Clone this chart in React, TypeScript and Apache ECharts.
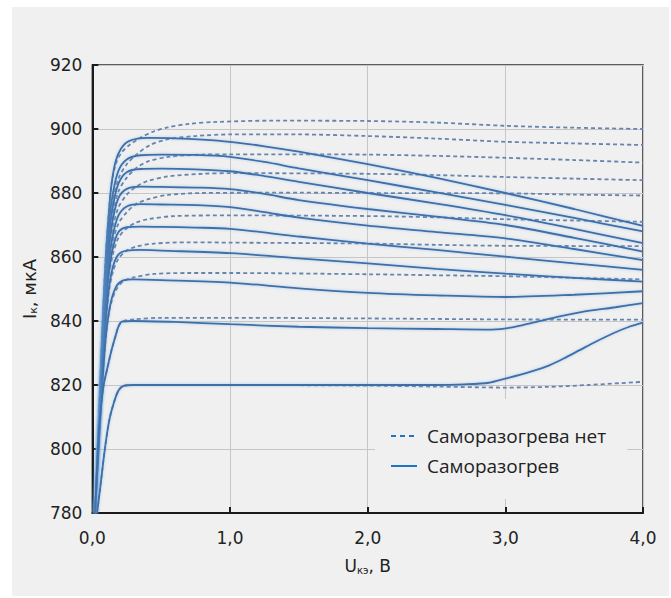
import React, { useEffect, useRef } from "react";
import * as echarts from "echarts";

// X axis ticks (U, V) and Y axis ticks (I, µA)
const xTicks = [0, 1, 2, 3, 4];
const yTicks = [780, 800, 820, 840, 860, 880, 900, 920];

const NAME_COLD = "Саморазогрева нет";
const NAME_HOT = "Саморазогрев";

// Solid curves (self-heating), [U, I]
const hot1 = [[0.02,780],[0.04,802],[0.06,824],[0.08,845],[0.1,862],[0.12,874],[0.14,883],[0.17,890],[0.21,894],[0.27,896.3],[0.4,897.2],[0.6,897.1],[0.8,896.7],[1,896],[1.25,894.6],[1.5,892.9],[2,889],[2.5,884.7],[3,880],[3.5,875],[4,869.7]];
const hot2 = [[0.02,780],[0.04,801],[0.06,822],[0.08,842],[0.1,858],[0.12,870],[0.15,880],[0.19,887],[0.25,890.5],[0.35,891.8],[0.5,892],[0.75,891.9],[1,891.3],[1.25,889.7],[1.5,887.7],[2,884],[2.5,880.2],[3,876.3],[3.5,872.2],[4,868]];
const hot3 = [[0.02,780],[0.04,800],[0.06,820],[0.08,840],[0.1,855],[0.12,866],[0.15,876],[0.19,883],[0.25,886.5],[0.35,887.5],[0.5,887.6],[0.75,887.4],[1,886.8],[1.25,885.3],[1.5,883.5],[2,880],[2.5,876.7],[3,873.1],[3.5,868.8],[4,864.3]];
const hot4 = [[0.02,780],[0.04,800],[0.06,819],[0.08,837],[0.1,851],[0.12,862],[0.15,872],[0.19,878.5],[0.25,881.3],[0.35,882],[0.5,881.9],[0.75,881.7],[1,881.2],[1.25,879.7],[1.5,877.8],[2,875],[2.5,872.6],[3,870],[3.5,866],[4,861.7]];
const hot5 = [[0.02,780],[0.04,799],[0.06,818],[0.08,835],[0.1,848],[0.12,858],[0.15,867],[0.19,873],[0.25,875.8],[0.35,876.5],[0.5,876.4],[0.75,876.2],[1,875.6],[1.25,874],[1.5,872.3],[2,869.8],[2.5,867.8],[3,865.8],[3.5,862.5],[4,859]];
const hot6 = [[0.02,780],[0.04,798],[0.06,816],[0.08,832],[0.1,845],[0.12,855],[0.15,863],[0.19,867.8],[0.25,869.3],[0.35,869.5],[0.5,869.4],[0.75,869.2],[1,868.8],[1.5,866.4],[2,864.2],[2.5,862.2],[3,860.1],[3.5,858],[4,856]];
const hot7 = [[0.02,780],[0.04,797],[0.06,814],[0.08,829],[0.1,841],[0.12,850],[0.15,857],[0.19,860.8],[0.25,862],[0.35,862.2],[0.5,862],[1,861.2],[1.5,859.6],[2,858],[2.5,856.3],[3,854.8],[3.5,853.5],[4,852.3]];
const hot8 = [[0.02,780],[0.04,796],[0.06,811],[0.08,825],[0.1,836],[0.13,845],[0.17,850.5],[0.22,852.6],[0.3,853],[0.5,852.8],[1,852],[1.5,850.2],[2,848.8],[2.5,848],[3,847.5],[3.5,848.2],[4,849.3]];
const hot9 = [[0.02,780],[0.035,795],[0.05,807],[0.08,819.5],[0.106,824.7],[0.14,831],[0.167,835.1],[0.19,838.3],[0.215,839.8],[0.3,840],[0.6,839.7],[1,839],[1.5,838.2],[2,837.8],[2.5,837.5],[2.9,837.3],[3.05,838],[3.2,839.5],[3.35,841],[3.55,842.8],[3.8,844.3],[4,845.6]];
const hot10 = [[0.034,780],[0.058,788.2],[0.09,799.7],[0.123,809],[0.155,814.3],[0.19,818.3],[0.227,819.7],[0.3,820],[1,820],[2,820],[2.5,820],[2.7,820.2],[2.88,820.7],[3,822],[3.15,823.7],[3.3,825.8],[3.42,828.2],[3.54,830.9],[3.66,833.6],[3.78,836.1],[3.9,838.2],[4,839.5]];

// Dashed curves (no self-heating), [U, I]
const cold1 = [[0.02,780],[0.04,802],[0.06,824],[0.08,845],[0.1,862],[0.12,874],[0.14,883],[0.17,889],[0.21,892.5],[0.27,895],[0.35,897.3],[0.45,899.3],[0.55,900.5],[0.7,901.6],[0.9,902.2],[1.3,902.6],[2,902.5],[2.5,902],[3,901],[3.5,900.4],[4,900]];
const cold2 = [[0.02,780],[0.04,801],[0.06,822],[0.08,842],[0.1,858],[0.12,869],[0.15,878],[0.19,884.5],[0.25,889],[0.32,892],[0.42,895],[0.55,896.8],[0.75,897.8],[1,898.3],[1.5,898.3],[2,897.8],[2.5,897],[3,896],[3.5,895.5],[4,895]];
const cold3 = [[0.02,780],[0.04,800],[0.06,820],[0.08,840],[0.1,854],[0.12,865],[0.15,874],[0.19,880.5],[0.25,884.8],[0.32,887.8],[0.4,889.8],[0.55,891.3],[0.8,892],[1,892.1],[1.5,892.1],[2,892],[2.5,891.6],[3,891],[3.5,890.3],[4,889.5]];
const cold4 = [[0.02,780],[0.04,800],[0.06,819],[0.08,837],[0.1,850],[0.12,861],[0.15,869.5],[0.19,875.5],[0.25,879.5],[0.32,882],[0.4,883.7],[0.55,885.2],[0.8,886],[1,886.2],[2,886],[2.5,885.6],[3,885],[3.5,884.5],[4,884]];
const cold5 = [[0.02,780],[0.04,799],[0.06,818],[0.08,835],[0.1,847],[0.12,857],[0.15,865],[0.19,870.5],[0.25,874],[0.32,876.6],[0.4,878],[0.55,879.4],[0.8,880],[1.5,880.1],[2,880],[3,879.9],[3.5,879.5],[4,879.2]];
const cold6 = [[0.02,780],[0.04,798],[0.06,816],[0.08,832],[0.1,844],[0.12,854],[0.15,861],[0.19,866],[0.25,869],[0.32,870.8],[0.4,871.8],[0.6,872.8],[1,873],[2,872.8],[2.5,872.4],[3,871.8],[3.5,871.4],[4,871]];
const cold7 = [[0.02,780],[0.04,797],[0.06,814],[0.08,829],[0.1,840],[0.12,849],[0.15,855.5],[0.19,859.5],[0.25,862],[0.32,863.3],[0.45,864.2],[0.7,864.6],[1,864.5],[2,864.2],[2.5,863.8],[3,863.5],[4,863.4]];
const cold8 = [[0.02,780],[0.04,796],[0.06,811],[0.08,825],[0.1,836],[0.13,844.5],[0.17,849.5],[0.22,852.2],[0.3,853.6],[0.45,854.7],[0.7,855],[1,855],[2,854.6],[2.5,854.3],[3,854],[3.5,853.5],[4,853]];
const cold9 = [[0.02,780],[0.035,795],[0.05,807],[0.08,819.5],[0.106,824.7],[0.14,831],[0.167,835.1],[0.19,838.3],[0.215,839.8],[0.3,840.5],[0.5,841],[1,841],[2,840.8],[3,840.5],[4,840.4]];
const cold10 = [[0.034,780],[0.058,788.2],[0.09,799.7],[0.123,809],[0.155,814.3],[0.19,818.3],[0.227,819.7],[0.3,820],[1,820],[2,819.8],[2.5,819.5],[3,819.2],[3.3,819.4],[3.6,820],[4,821]];

const hotCurves = [hot1, hot2, hot3, hot4, hot5, hot6, hot7, hot8, hot9, hot10];
const coldCurves = [cold1, cold2, cold3, cold4, cold5, cold6, cold7, cold8, cold9, cold10];

const FONT = "DejaVu Sans";
const HOT_COLOR = "#3f6ea6";
const COLD_COLOR = "#6684ad";
const LEGEND_COLOR = "#1f74c4";

export default function App() {
  const ref = useRef<HTMLDivElement>(null);

  useEffect(() => {
    if (!ref.current) return;
    const chart = echarts.init(ref.current, undefined, { renderer: "svg" });

    const coldSeries = coldCurves.map((d) => ({
      name: NAME_COLD,
      type: "line",
      data: d,
      showSymbol: false,
      symbol: "none",
      smooth: 0.3,
      lineStyle: { color: COLD_COLOR, width: 1.8, type: [4, 3] },
      itemStyle: { color: COLD_COLOR },
      z: 2,
    }));
    const hotSeries = hotCurves.map((d) => ({
      name: NAME_HOT,
      type: "line",
      data: d,
      showSymbol: false,
      symbol: "none",
      smooth: 0.3,
      lineStyle: {
        color: HOT_COLOR,
        width: 1.8,
        shadowColor: "rgba(110,170,230,0.55)",
        shadowBlur: 3,
      },
      itemStyle: { color: HOT_COLOR },
      z: 3,
    }));

    chart.setOption({
      animation: false,
      backgroundColor: "#f0f0f0",
      grid: {
        left: 80,
        top: 58,
        right: 26,
        bottom: 83,
        show: true,
        borderColor: "#2a2a2a",
        borderWidth: 1.5,
        backgroundColor: "transparent",
      },
      legend: {
        data: [
          {
            name: NAME_COLD,
            itemStyle: { color: "rgba(0,0,0,0)", borderWidth: 0 },
            lineStyle: { color: LEGEND_COLOR, type: [5, 4], width: 2, shadowBlur: 0 },
          },
          {
            name: NAME_HOT,
            itemStyle: { color: "rgba(0,0,0,0)", borderWidth: 0 },
            lineStyle: { color: LEGEND_COLOR, width: 2, shadowBlur: 0 },
          },
        ],
        orient: "vertical",
        left: 363,
        top: 392,
        padding: [26, 21, 22, 15],
        backgroundColor: "#f0f0f0",
        itemWidth: 26,
        itemHeight: 14,
        itemGap: 8,
        textStyle: {
          fontFamily: "Open Sans",
          fontSize: 19,
          color: "#222",
          lineHeight: 22,
          padding: [0, 0, 0, 5],
        },
        z: 10,
      },
      xAxis: {
        type: "value",
        min: xTicks[0],
        max: xTicks[xTicks.length - 1],
        interval: 1,
        name: "{m|U}{s|кэ}{m|, В}",
        nameLocation: "middle",
        nameGap: 43,
        nameTextStyle: {
          rich: {
            m: { fontFamily: FONT, fontSize: 17, color: "#222" },
            s: { fontFamily: FONT, fontSize: 10, color: "#222", verticalAlign: "bottom", padding: [9, 0, 0, 0] },
          },
        },
        axisLine: { show: true, lineStyle: { color: "#1a1a1a", width: 2 } },
        axisTick: { show: true, inside: true, length: 6, lineStyle: { color: "#1a1a1a", width: 2 } },
        axisLabel: {
          fontFamily: FONT,
          fontSize: 17,
          color: "#222",
          margin: 16,
          formatter: (v: number) => v.toFixed(1).replace(".", ","),
        },
        splitLine: { show: true, lineStyle: { color: "#c6c6c6", width: 1 } },
      },
      yAxis: {
        type: "value",
        min: yTicks[0],
        max: yTicks[yTicks.length - 1],
        interval: 20,
        name: "{m|I}{s|к}{m|, мкА}",
        nameLocation: "middle",
        nameGap: 52,
        nameRotate: 90,
        nameTextStyle: {
          rich: {
            m: { fontFamily: FONT, fontSize: 18, color: "#222" },
            s: { fontFamily: FONT, fontSize: 11, color: "#222", verticalAlign: "bottom", padding: [9, 0, 0, 0] },
          },
        },
        axisLine: { show: true, lineStyle: { color: "#1a1a1a", width: 2 } },
        axisTick: { show: true, inside: true, length: 6, lineStyle: { color: "#1a1a1a", width: 2 } },
        axisLabel: { fontFamily: FONT, fontSize: 17, color: "#222", margin: 10 },
        splitLine: { show: true, lineStyle: { color: "#c6c6c6", width: 1 } },
      },
      series: [...coldSeries, ...hotSeries],
    });

    return () => chart.dispose();
  }, []);

  return (
    <div
      ref={ref}
      style={{ position: "absolute", left: 12, top: 7, width: 657, height: 589, background: "#f0f0f0" }}
    />
  );
}
